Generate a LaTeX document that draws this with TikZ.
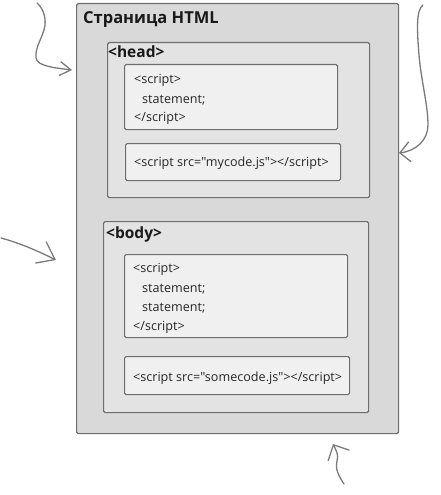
\documentclass[tikz,border=0pt]{standalone}
\usepackage{fontspec}
\setmainfont{Open Sans}
\newfontfamily\codefont{Open Sans}
\usetikzlibrary{arrows.meta}
\definecolor{edgegray}{HTML}{6E6E6E}
\definecolor{arrowgray}{HTML}{7A7A7A}
\definecolor{pagefill}{HTML}{D9D9D9}
\definecolor{sectfill}{HTML}{E3E3E3}
\definecolor{scriptfill}{HTML}{F0F0F0}
\tikzset{
  boxbase/.style={draw=edgegray, line width=1.2pt, rounded corners=1.5pt, anchor=north west, inner sep=0pt},
  pagebox/.style={boxbase, fill=pagefill},
  sectbox/.style={boxbase, fill=sectfill},
  scriptbox/.style={boxbase, fill=scriptfill, line width=1.1pt},
  codetext/.style={anchor=base west, inner sep=0pt, font=\codefont\fontsize{12.6}{14}\selectfont, text=black!85},
  headtext/.style={anchor=base west, inner sep=0pt, font=\bfseries\fontsize{15.5}{17}\selectfont, text=black!90},
  titletext/.style={anchor=base west, inner sep=0pt, font=\bfseries\fontsize{16.5}{18}\selectfont, text=black!90},
  handarrow/.style={draw=arrowgray, line width=1.3pt, line cap=round, line join=round},
  barb/.style n args={2}{-{Straight Barb[length=#1pt,width=#2pt,line width=1.3pt]}}
}
\begin{document}
\begin{tikzpicture}[x=1pt,y=-1pt]
\useasboundingbox (0,0) rectangle (440,495);
% boxes
\node[pagebox, minimum width=322pt, minimum height=430pt] (page) at (76,3) {};
\node[sectbox, minimum width=262pt, minimum height=155pt] (head) at (107,42) {};
\node[scriptbox, minimum width=213pt, minimum height=65pt] (hs1) at (124,64) {};
\node[scriptbox, minimum width=215pt, minimum height=37pt] (hs2) at (125,143) {};
\node[sectbox, minimum width=265pt, minimum height=191pt] (body) at (103,221) {};
\node[scriptbox, minimum width=223pt, minimum height=83pt] (bs1) at (124,254) {};
\node[scriptbox, minimum width=225pt, minimum height=38pt] (bs2) at (124,356) {};
% texts
\node[titletext] (title) at (83,24) {Страница HTML};
\node[headtext] (headlbl) at (108,58) {<head>};
\node[codetext] (h1) at (134,84) {<script>};
\node[codetext] (h2) at (142,103) {statement;};
\node[codetext] (h3) at (134,121) {</script>};
\node[codetext] (h4) at (134,166) {<script src="mycode.js"></script>};
\node[headtext] (bodylbl) at (106,238) {<body>};
\node[codetext] (b1) at (133,272) {<script>};
\node[codetext] (b2) at (142,292) {statement;};
\node[codetext] (b3) at (142,311) {statement;};
\node[codetext] (b4) at (133,330) {</script>};
\node[codetext] (b5) at (133,381) {<script src="somecode.js"></script>};
% arrows
\coordinate (a1s) at (37,3);
\coordinate (a1e) at (72,70);
\draw[handarrow, barb={11}{14}] (a1s) .. controls (44,9) and (47,20) .. (44,30)
  .. controls (41,40) and (35,48) .. (36,58)
  .. controls (37,66) and (55,68) .. (a1e);
\coordinate (a2s) at (423,5);
\coordinate (a2e) at (399,153);
\draw[handarrow, barb={10}{20}] (a2s) .. controls (416,10) and (417,30) .. (419,55)
  .. controls (421,80) and (428,105) .. (428,125)
  .. controls (428,140) and (416,151) .. (a2e);
\coordinate (a3s) at (1,238);
\coordinate (a3e) at (56,260);
\draw[handarrow, barb={16}{24}] (a3s) .. controls (20,243) and (40,252) .. (a3e);
\coordinate (a4s) at (344,484);
\coordinate (a4e) at (333,444);
\draw[handarrow, barb={12}{24}] (a4s) .. controls (338,475) and (335,468) .. (337,461)
  .. controls (339,455) and (336,450) .. (a4e);
\end{tikzpicture}
\end{document}
